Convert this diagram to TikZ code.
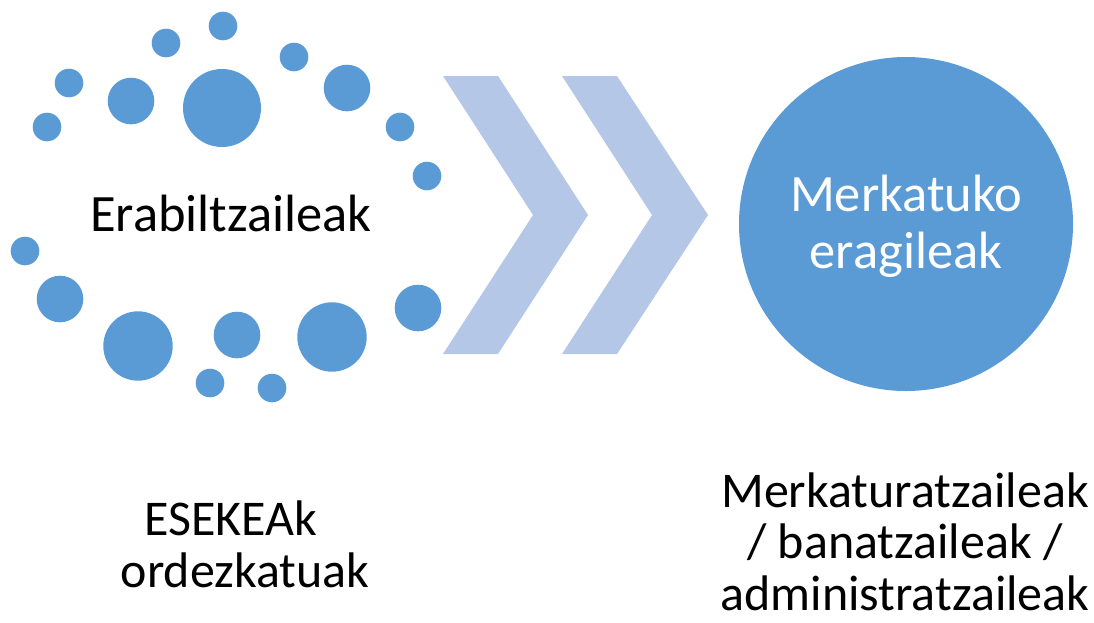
\documentclass[tikz,border=0pt]{standalone}
\usepackage{fontspec}
\setmainfont{Carlito}
\definecolor{dotblue}{HTML}{5B9BD5}
\definecolor{chevblue}{HTML}{B4C7E7}
\begin{document}
\begin{tikzpicture}[x=1pt,y=-1pt,
  dot/.style={fill=dotblue,draw=none},
  chev/.style={fill=chevblue,draw=none},
  lbl/.style={inner sep=0pt,align=center,font=\fontsize{52.5}{57}\selectfont},
  lowlbl/.style={inner sep=0pt,align=center,font=\fontsize{50}{51.5}\selectfont}]
\useasboundingbox (0,0) rectangle (1094,622);
% dots
\foreach \x/\y/\r in {223/26/14.3,166/43/14.3,69/83/14.3,294/57/14.3,
  131/101/23.3,222/108/39,347/88/23.3,47/127/14.3,400/127/14.3,427/176/14.3,
  25/251/14.3,60/299/23.3,138/346/34.7,237/335/23.3,332/337/34.7,418/308/23.3,
  210/383/14.3,272/388/14.3}
  \fill[dot] (\x,\y) circle[radius=\r];
% chevrons
\fill[chev] (443,76) -- (498,76) -- (588,215) -- (498,354) -- (443,354) -- (533,215) -- cycle;
\fill[chev] (562,76) -- (617,76) -- (708,215) -- (617,354) -- (562,354) -- (652,215) -- cycle;
% big circle
\node[circle,fill=dotblue,draw=none,minimum size=334pt,inner sep=0pt] (market) at (906,224) {};
\node[lbl,text=white,anchor=base] (mtext) at (906,268) {Merkatuko\\eragileak};
\node[lbl,anchor=base] (users) at (231,231) {Erabiltzaileak};
\node[lowlbl,anchor=base] (esekea) at (245,587) {ESEKEAk\kern 28pt\\ordezkatuak};
\node[lowlbl,anchor=base] (dist) at (905,610) {Merkaturatzaileak\\/ banatzaileak /\\administratzaileak};
\end{tikzpicture}
\end{document}
